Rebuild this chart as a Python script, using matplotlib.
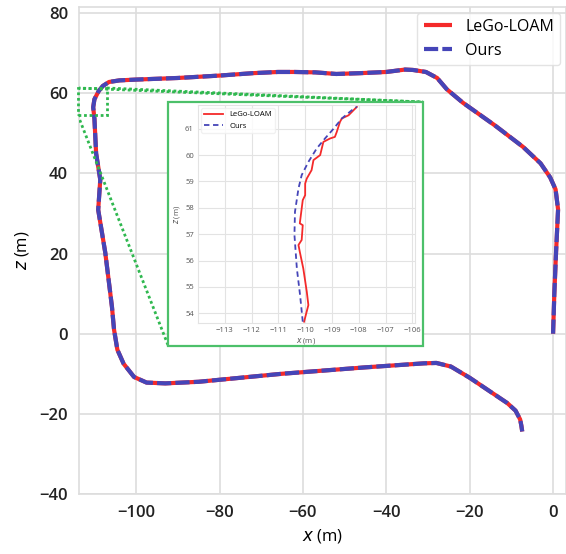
import matplotlib.pyplot as plt
from matplotlib.patches import Rectangle
import numpy as np

plt.rcParams['font.family'] = ['Open Sans', 'DejaVu Sans']

# main trajectory (both methods overlap at this scale)
traj_x = [0.0, 0.3, 0.7, 1.2, 0.6, -0.7, -3.0, -7.2, -14.0, -21.6, -25.5, -27.8,
          -30.5, -33.6, -35.5, -40.0, -46.3, -52.0, -57.0, -62.0, -66.0, -72.0,
          -80.0, -90.0, -100.0, -104.0, -106.5, -108.0, -109.0, -110.0, -110.3,
          -110.0, -109.6, -108.6, -109.1, -107.4, -105.8, -105.3, -104.5, -103.0,
          -100.5, -97.5, -93.0, -85.0, -75.0, -65.0, -55.0, -45.0, -38.0, -31.0,
          -28.0, -24.5, -20.0, -15.0, -11.0, -9.0, -7.9, -7.6, -7.4]
traj_z = [0.0, 10.0, 20.0, 31.0, 36.0, 39.0, 42.5, 46.6, 52.0, 57.6, 61.0, 63.8,
          65.3, 65.8, 65.9, 65.3, 65.0, 64.8, 65.2, 65.3, 65.3, 65.0,
          64.4, 63.8, 63.4, 63.2, 62.8, 61.8, 60.5, 58.5, 56.5,
          53.6, 45.0, 38.4, 30.9, 20.2, 6.7, 1.0, -4.0, -7.5,
          -10.8, -12.2, -12.4, -12.0, -11.0, -10.0, -9.2, -8.4, -7.9, -7.4,
          -7.3, -8.2, -11.0, -14.5, -17.3, -19.2, -21.4, -23.0, -24.4]

# zoomed section
lego_x = [-110.04, -109.88, -109.94, -110.07, -110.2, -110.25, -110.13, -110.09,
          -110.2, -110.09, -110.0, -110.0, -109.94, -109.76, -109.69, -109.44,
          -109.32, -109.07, -108.89, -108.82, -108.7, -108.63, -108.38, -108.07]
lego_z = [53.68, 54.31, 54.82, 55.70, 56.33, 56.59, 56.78, 57.34,
          57.41, 58.29, 58.48, 58.92, 59.11, 59.43, 59.81, 60.0,
          60.50, 60.63, 60.69, 60.88, 61.26, 61.39, 61.51, 61.83]
ours_x = [-110.09, -110.19, -110.31, -110.40, -110.38, -110.25, -110.13, -109.88,
          -109.57, -109.26, -108.94, -108.63, -108.26, -108.07]
ours_z = [53.68, 54.69, 55.70, 56.97, 57.85, 58.73, 59.24, 59.74,
          60.25, 60.63, 61.0, 61.39, 61.70, 61.83]

red = '#f42a2a'
blue = '#4545b8'
green = '#2fb84f'
grid_c = '#dddddd'

fig = plt.figure(figsize=(5.66, 5.54), dpi=100)
ax = fig.add_axes([0.1396, 0.1083, 0.8604, 0.879])
ax.plot(traj_x, traj_z, color=red, lw=3.0, label='LeGo-LOAM', solid_capstyle='butt')
ax.plot(traj_x, traj_z, color=blue, lw=3.0, ls=(0, (3.4, 1.0)), label='Ours')
ax.set_xlim(-113.7, 3.1)
ax.set_ylim(-40, 81.5)
ax.set_xticks([-100, -80, -60, -40, -20, 0])
ax.set_yticks([-40, -20, 0, 20, 40, 60, 80])
ax.grid(color=grid_c, lw=1.2)
ax.set_axisbelow(True)
for s in ax.spines.values():
    s.set_color(grid_c)
    s.set_linewidth(1.2)
ax.tick_params(length=0, labelsize=12, pad=8, labelcolor='#222222')
for t in ax.get_xticklabels() + ax.get_yticklabels():
    t.set_fontweight('semibold')
ax.set_xlabel(r'$x$ (m)', fontsize=12, labelpad=4)
ax.set_ylabel(r'$z$ (m)', fontsize=12, labelpad=6)
leg = ax.legend(loc='upper right', fontsize=11.5, frameon=True, handlelength=1.8,
                borderaxespad=0.35, fancybox=True)
leg.get_frame().set_edgecolor('#dddddd')

# zoom region box and connectors
zx0, zx1, zz0, zz1 = -114.0, -107.0, 54.6, 61.3
ax.add_patch(Rectangle((zx0, zz0), zx1 - zx0, zz1 - zz0, fill=False, ec=green,
                       lw=2, ls=(0, (1, 1)), zorder=5, clip_on=False))

# inset frame
fx0, fx1, fz0, fz1 = -92.3, -31.2, -3.0, 57.8
ax.add_patch(Rectangle((fx0, fz0), fx1 - fx0, fz1 - fz0, fill=True, fc='white',
                       ec='#4cc06a', lw=1.6, zorder=6))
ax.plot([zx0, fx1], [zz1, fz1], color=green, lw=2, ls=(0, (1, 1)), zorder=5)
ax.plot([zx1, fx1], [zz1, fz1], color=green, lw=2, ls=(0, (1, 1)), zorder=5)
ax.plot([zx0, fx0], [zz0, fz0], color=green, lw=2, ls=(0, (1, 1)), zorder=5)

axins = fig.add_axes([198 / 566, 1 - 323 / 554, 217 / 566, 218 / 554])
axins.set_zorder(10)
axins.plot(lego_x, lego_z, color=red, lw=1.3, label='LeGo-LOAM')
axins.plot(ours_x, ours_z, color=blue, lw=1.3, ls=(0, (3, 2)), label='Ours')
axins.set_xlim(-114.0, -105.9)
axins.set_ylim(53.63, 61.9)
axins.set_xticks(np.arange(-113, -105))
axins.set_yticks(np.arange(54, 62))
axins.grid(color='#e3e3e3', lw=0.8)
for s in axins.spines.values():
    s.set_color('#e3e3e3')
axins.tick_params(length=0, labelsize=5.5, labelcolor='#555555', pad=3)
axins.set_xlabel(r'$x$ (m)', fontsize=5.5, color='#555555', labelpad=1)
axins.set_ylabel(r'$z$ (m)', fontsize=5.5, color='#555555', labelpad=2)
lg2 = axins.legend(loc='upper left', fontsize=5.5, frameon=True, handlelength=2.5,
                   borderaxespad=0.4)
lg2.get_frame().set_edgecolor('#eeeeee')

fig.savefig('out.png', dpi=100)
